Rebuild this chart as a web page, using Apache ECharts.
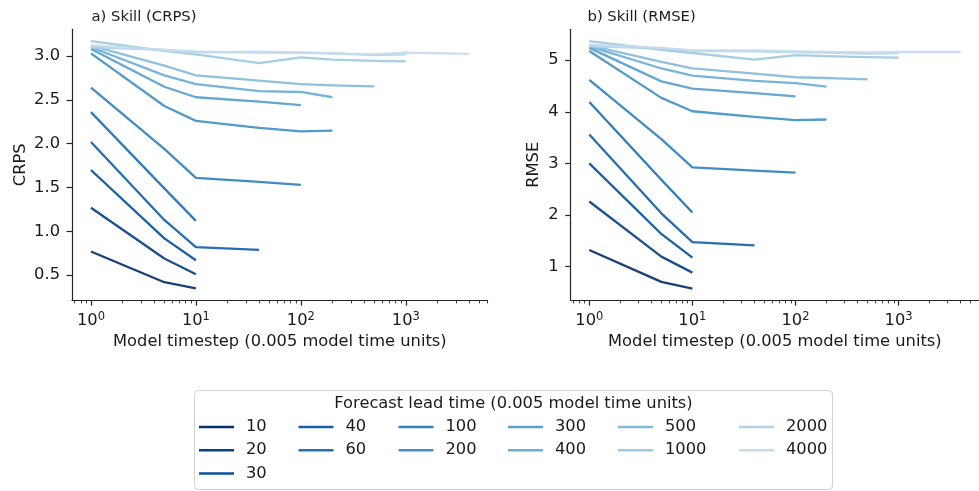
<!DOCTYPE html>
<html>
<head>
<meta charset="utf-8">
<script src="https://cdn.jsdelivr.net/npm/echarts@6/dist/echarts.min.js"></script>
<style>
html,body{margin:0;padding:0;background:#fff;}
#chart{width:979px;height:491px;}
</style>
</head>
<body>
<div id="chart"></div>
<script>
// ---- data ----
const timesteps = [1, 5, 10, 40, 100, 200, 500, 1000, 4000];
const leadTimes = ['10', '20', '30', '40', '60', '100', '200', '300', '400', '500', '1000', '2000', '4000'];
const xMajorTicks = [1, 10, 100, 1000];
const xMinorTicks = [0.7, 0.8, 0.9, 2, 3, 4, 5, 6, 7, 8, 9, 20, 30, 40, 50, 60, 70, 80, 90,
  200, 300, 400, 500, 600, 700, 800, 900, 2000, 3000, 4000, 5000, 6000];
const crpsTicks = [0.5, 1.0, 1.5, 2.0, 2.5, 3.0];
const rmseTicks = [1, 2, 3, 4, 5];

// CRPS values per lead time (indexed along timesteps)
const crps10 = [0.77, 0.42, 0.35];
const crps20 = [1.27, 0.69, 0.51];
const crps30 = [1.70, 0.92, 0.67];
const crps40 = [2.02, 1.13, 0.82, 0.79];
const crps60 = [2.36, 1.49, 1.12];
const crps100 = [2.64, 1.94, 1.61, 1.565, 1.53];
const crps200 = [3.03, 2.43, 2.26, 2.18, 2.14, 2.15];
const crps300 = [3.08, 2.65, 2.53, 2.48, 2.44];
const crps400 = [3.10, 2.78, 2.68, 2.60, 2.59, 2.53];
const crps500 = [3.12, 2.89, 2.78, 2.72, 2.68, 2.665, 2.655];
const crps1000 = [3.17, 3.06, 3.02, 2.92, 2.985, 2.96, 2.945, 2.94];
const crps2000 = [3.10, 3.07, 3.05, 3.04, 3.04, 3.03, 3.01, 3.02];
const crps4000 = [3.12, 3.07, 3.04, 3.05, 3.04, 3.03, 3.02, 3.04, 3.025];

// RMSE values per lead time
const rmse10 = [1.32, 0.70, 0.57];
const rmse20 = [2.26, 1.19, 0.88];
const rmse30 = [3.00, 1.63, 1.17];
const rmse40 = [3.56, 2.03, 1.47, 1.41];
const rmse60 = [4.19, 2.68, 2.045];
const rmse100 = [4.62, 3.47, 2.92, 2.86, 2.82];
const rmse200 = [5.18, 4.27, 4.01, 3.90, 3.84, 3.85];
const rmse300 = [5.24, 4.59, 4.45, 4.36, 4.30];
const rmse400 = [5.27, 4.84, 4.70, 4.60, 4.555, 4.49];
const rmse500 = [5.29, 4.97, 4.84, 4.74, 4.67, 4.655, 4.63];
const rmse1000 = [5.37, 5.20, 5.14, 5.01, 5.10, 5.08, 5.06, 5.05];
const rmse2000 = [5.27, 5.23, 5.18, 5.17, 5.16, 5.15, 5.13, 5.14];
const rmse4000 = [5.30, 5.24, 5.19, 5.19, 5.17, 5.16, 5.15, 5.16, 5.16];

const crpsSeries = [crps10, crps20, crps30, crps40, crps60, crps100, crps200, crps300, crps400, crps500, crps1000, crps2000, crps4000];
const rmseSeries = [rmse10, rmse20, rmse30, rmse40, rmse60, rmse100, rmse200, rmse300, rmse400, rmse500, rmse1000, rmse2000, rmse4000];

const leadColors = ['#08306b', '#084184', '#08519c', '#1561a9', '#2171b5', '#3282be', '#4292c6',
  '#57a0ce', '#6baed6', '#85bcdc', '#9ecae1', '#b2d2e8', '#c6dbef'];

// ---- chart ----
const FONT = 'DejaVu Sans';
const TXT = '#1a1a1a';
const AX = '#262626';
const FS = 16.3;

function buildSeries(valuesList, xIdx, yIdx) {
  return valuesList.map((vals, i) => ({
    name: leadTimes[i],
    type: 'line',
    xAxisIndex: xIdx,
    yAxisIndex: yIdx,
    data: vals.map((v, j) => [timesteps[j], v]),
    showSymbol: false,
    symbol: 'none',
    color: leadColors[i],
    lineStyle: { width: 2.3, color: leadColors[i], opacity: 0.92, join: 'round' },
    emphasis: { disabled: true },
    z: 2 + i
  }));
}

function majorX(gridIndex, nameGap) {
  return {
    type: 'log', gridIndex: gridIndex, position: 'bottom',
    min: 0.66, max: 6030,
    name: 'Model timestep (0.005 model time units)',
    nameLocation: 'middle', nameGap: nameGap,
    nameTextStyle: { fontFamily: FONT, fontSize: FS, color: TXT },
    axisLine: { show: true, onZero: false, lineStyle: { color: AX, width: 1.2 } },
    axisTick: { show: true, customValues: xMajorTicks, length: 5.5, lineStyle: { color: AX, width: 1.2 } },
    minorTick: { show: false },
    splitLine: { show: false },
    axisLabel: {
      customValues: xMajorTicks, margin: 11,
      formatter: function (v) { return '{b|10}{s|' + Math.round(Math.log10(v)) + '}'; },
      rich: {
        b: { fontFamily: FONT, fontSize: FS, color: TXT, lineHeight: 20 },
        s: { fontFamily: FONT, fontSize: 11.5, color: TXT, lineHeight: 12, verticalAlign: 'top' }
      }
    }
  };
}
function minorX(gridIndex) {
  return {
    type: 'log', gridIndex: gridIndex, position: 'bottom', offset: 0,
    min: 0.66, max: 6030,
    axisLine: { show: false, onZero: false },
    axisTick: { show: true, customValues: xMinorTicks, length: 3.2, lineStyle: { color: AX, width: 0.9 } },
    axisLabel: { show: false, customValues: xMinorTicks },
    splitLine: { show: false }
  };
}
function yAx(gridIndex, min, max, ticks, name, nameGap, fmt) {
  return {
    type: 'value', gridIndex: gridIndex, min: min, max: max,
    name: name, nameLocation: 'middle', nameGap: nameGap, nameRotate: 90,
    nameTextStyle: { fontFamily: FONT, fontSize: FS, color: TXT },
    axisLine: { show: true, onZero: false, lineStyle: { color: AX, width: 1.2 } },
    axisTick: { show: true, customValues: ticks, length: 5.5, lineStyle: { color: AX, width: 1.2 } },
    splitLine: { show: false },
    axisLabel: { customValues: ticks, margin: 12, fontFamily: FONT, fontSize: FS, color: TXT, formatter: fmt }
  };
}

const legendCols = [['10', '20', '30'], ['40', '60'], ['100', '200'], ['300', '400'], ['500', '1000'], ['2000', '4000']];
const legendLefts = [199, 298.5, 398.5, 508, 618, 739];
const legends = legendCols.map((names, k) => ({
  orient: 'vertical', left: legendLefts[k], top: 419,
  data: names, icon: 'rect', itemWidth: 35, itemHeight: 2.5, itemGap: 7.2,
  padding: 0, selectedMode: false,
  textStyle: { fontFamily: FONT, fontSize: FS, color: TXT, padding: [0, 0, 0, 7] }
}));

const option = {
  animation: false,
  backgroundColor: '#ffffff',
  title: [
    { text: 'a) Skill (CRPS)', left: 91.5, top: 9.5, padding: 0, textStyle: { fontFamily: FONT, fontSize: 14.8, fontWeight: 'normal', color: TXT } },
    { text: 'b) Skill (RMSE)', left: 587.5, top: 9.5, padding: 0, textStyle: { fontFamily: FONT, fontSize: 14.8, fontWeight: 'normal', color: TXT } },
    { text: 'Forecast lead time (0.005 model time units)', left: 513.5, top: 396, padding: 0, textAlign: 'center',
      textStyle: { fontFamily: FONT, fontSize: FS, fontWeight: 'normal', color: TXT } }
  ],
  legend: legends,
  grid: [
    { left: 72, top: 29.3, width: 415.7, height: 270.9, containLabel: false },
    { left: 570.7, top: 29.3, width: 415.7, height: 270.9, containLabel: false }
  ],
  xAxis: [majorX(0, 34), minorX(0), majorX(1, 34), minorX(1)],
  yAxis: [
    yAx(0, 0.215, 3.305, crpsTicks, 'CRPS', 43, function (v) { return v.toFixed(1); }),
    yAx(1, 0.345, 5.60, rmseTicks, 'RMSE', 29, function (v) { return String(v); })
  ],
  graphic: [
    { type: 'rect', shape: { x: 194.5, y: 390.5, width: 638, height: 99, r: 4 }, style: { fill: 'none', stroke: '#d0d0d0', lineWidth: 1 }, silent: true, z: 0 }
  ],
  series: buildSeries(crpsSeries, 0, 0).concat(buildSeries(rmseSeries, 2, 1))
};

const chart = echarts.init(document.getElementById('chart'), null, { renderer: 'canvas' });
chart.setOption(option);
</script>
</body>
</html>
